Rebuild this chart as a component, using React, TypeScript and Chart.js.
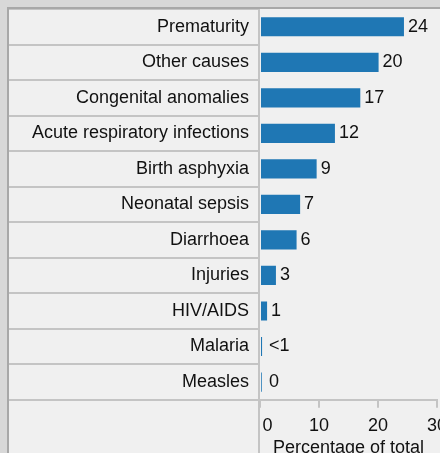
import React, { useEffect, useRef } from "react";
import { Chart, registerables } from "chart.js";

Chart.register(...registerables);

const categories = [
  "Prematurity",
  "Other causes",
  "Congenital anomalies",
  "Acute respiratory infections",
  "Birth asphyxia",
  "Neonatal sepsis",
  "Diarrhoea",
  "Injuries",
  "HIV/AIDS",
  "Malaria",
  "Measles",
];
const values = [24.4, 20.1, 17.0, 12.7, 9.6, 6.8, 6.2, 2.7, 1.2, 0.35, 0.3];
const valueLabels = ["24", "20", "17", "12", "9", "7", "6", "3", "1", "<1", "0"];
const xTicks = [0, 10, 20, 30];
const xTitle = "Percentage of total";

const FONT = "'Liberation Sans', Arial, sans-serif";
const TEXT = "#111111";
const LINE = "#c4c4c4";

const valueLabelPlugin = {
  id: "valueLabels",
  afterDatasetsDraw(chart: any) {
    const ctx = chart.ctx;
    const meta = chart.getDatasetMeta(0);
    ctx.save();
    ctx.font = `18px ${FONT}`;
    ctx.fillStyle = TEXT;
    ctx.textAlign = "left";
    ctx.textBaseline = "middle";
    meta.data.forEach((bar: any, i: number) => {
      const x = Math.max(bar.x, bar.base + 4) + 4;
      ctx.fillText(valueLabels[i], x, bar.y);
    });
    ctx.restore();
  },
};

const dividerPlugin = {
  id: "divider",
  beforeDatasetsDraw(chart: any) {
    const ctx = chart.ctx;
    const x = chart.chartArea.left - 1;
    ctx.save();
    ctx.strokeStyle = LINE;
    ctx.lineWidth = 2;
    ctx.beginPath();
    ctx.moveTo(x, 0);
    ctx.lineTo(x, chart.height);
    ctx.stroke();
    ctx.restore();
  },
};

export default function App() {
  const ref = useRef<HTMLCanvasElement | null>(null);

  useEffect(() => {
    if (!ref.current) return;
    Chart.defaults.font.family = FONT;
    Chart.defaults.font.size = 18;
    Chart.defaults.color = TEXT;
    const chart = new Chart(ref.current, {
      type: "bar",
      data: {
        labels: categories,
        datasets: [
          {
            data: values,
            backgroundColor: "#1f77b4",
            borderWidth: 0,
            barPercentage: 0.54,
            categoryPercentage: 1,
          },
        ],
      },
      options: {
        indexAxis: "y",
        responsive: false,
        animation: false,
        layout: { padding: { top: 0, right: 32, bottom: 0, left: 0 } },
        plugins: {
          legend: { display: false },
          tooltip: { enabled: false },
        },
        scales: {
          y: {
            type: "category",
            offset: true,
            afterFit: (scale: any) => {
              scale.width = 251;
            },
            grid: {
              offset: true,
              drawOnChartArea: false,
              drawTicks: true,
              tickLength: 251,
              color: LINE,
              lineWidth: 2,
            },
            border: { display: false },
            ticks: {
              padding: -240,
              color: TEXT,
              font: { size: 18, family: FONT },
              autoSkip: false,
            },
          },
          x: {
            type: "linear",
            min: 0,
            max: 30,
            afterBuildTicks: (scale: any) => {
              scale.ticks = xTicks.map((v) => ({ value: v }));
            },
            grid: {
              drawOnChartArea: false,
              drawTicks: true,
              tickLength: 8,
              color: LINE,
              lineWidth: 2,
            },
            border: { display: true, color: LINE, width: 2 },
            ticks: {
              padding: 7,
              color: TEXT,
              maxRotation: 0,
              font: { size: 18, family: FONT },
              callback: (v: any) => (Number(v) === 0 ? "   0" : String(v)),
            },
            title: {
              display: true,
              text: xTitle,
              color: TEXT,
              font: { size: 18, family: FONT },
              padding: { top: -6, bottom: 6 },
            },
          },
        },
      },
      plugins: [valueLabelPlugin, dividerPlugin],
    });
    return () => chart.destroy();
  }, []);

  return (
    <div
      style={{
        position: "fixed",
        left: 0,
        top: 0,
        width: 440,
        height: 453,
        overflow: "hidden",
        background: "#d8d8d8",
      }}
    >
      <div
        style={{
          position: "absolute",
          left: 7,
          top: 7,
          width: 520,
          height: 520,
          borderLeft: "2px solid #a8a8a8",
          borderTop: "2px solid #a8a8a8",
          background: "#f0f0f0",
        }}
      >
        <canvas
          ref={ref}
          width={460}
          height={456}
          style={{ position: "absolute", left: 0, top: 0, width: 460, height: 456 }}
        />
      </div>
    </div>
  );
}
